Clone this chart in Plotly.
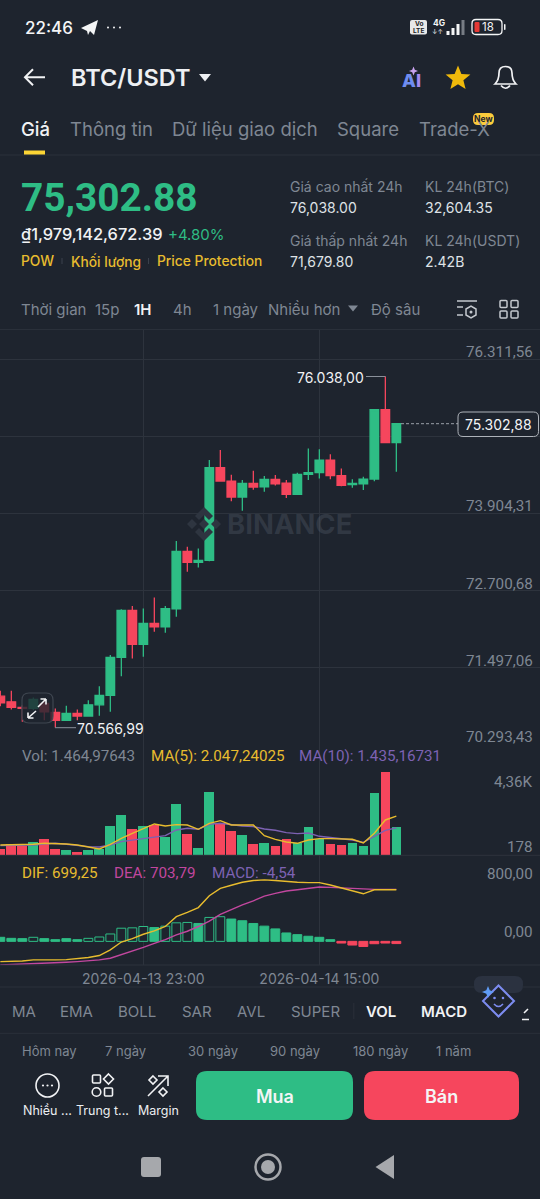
import math
import pandas as pd
import plotly.graph_objects as go

times = [str(t) for t in pd.date_range("2026-04-13 10:00", periods=37, freq="h")]
tick_times = ["2026-04-13 23:00", "2026-04-14 15:00"]

opens = [71055,70967,70879,70863,70941,70801,70676,70785,70744,70920,71066,71659,72392,71861,72189,72137,72418,73312,73140,73172,74617,74409,74159,74372,74320,74435,74378,74201,74513,74539,74736,74492,74352,74367,74440,75521,75007]
highs = [71139,71139,70915,71035,70993,70863,70905,70847,70993,71211,71695,72410,72459,72423,72594,72459,73473,73385,73359,74736,74892,74508,74424,74570,74487,74502,74424,74539,74918,74903,74825,74606,74435,74476,75530,76038.00,75310]
lows = [70899,70847,70655,70837,70681,70566.99,70676,70681,70733,70749,70811,71367,71643,71669,72059,72043,72293,72995,73062,73160,74398,74092,73946,74274,74242,74341,74144,74190,74424,74450,74435,74326,74305,74268,74404,75000,74554]
closes = [70951,70879,70863,71003,70811,70676,70785,70744,70920,71066,71659,72392,71861,72189,72137,72418,73312,73140,73172,74617,74409,74159,74372,74315,74435,74367,74201,74513,74539,74736,74492,74341,74372,74440,75521,75007,75302.88]

volume = [349,576,471,698,872,331,262,174,262,349,1552,2128,1360,1517,1587,977,2668,1099,401,3331,1674,1273,1064,593,663,488,837,663,1465,855,576,541,663,506,3261,4360,1464.98]
volume_up = [0,0,0,1,0,0,1,0,1,1,1,1,0,1,0,1,1,0,1,1,0,0,1,0,1,0,0,1,1,1,0,0,1,1,1,0,1]
ma5 = [541,541,541,576,628,628,593,541,453,331,576,889,1151,1413,1639,1535,1604,1587,1360,1674,1814,1587,1587,1587,1029,837,698,628,802,872,872,837,837,645,1151,1849,2047.24]
ma10 = [506,506,506,541,593,628,576,506,453,436,541,715,802,855,942,1029,1325,1413,1360,1622,1674,1587,1535,1500,1378,1308,1186,1134,1168,994,924,872,802,680,977,1308,1435.17]

macd_hist = [55,41,37,55,37,23,37,23,41,59,100,178,183,201,187,206,251,256,242,324,334,302,279,242,206,169,114,91,69,55,23,-23,-50,-69,-32,-23,-30]
macd_hollow = [0,0,0,1,0,0,0,0,1,1,1,1,1,1,0,1,1,1,0,1,1,0,0,0,0,0,0,0,0,0,0,0,0,0,0,0,0]
dif = [-274,-270,-265,-251,-256,-251,-247,-238,-219,-192,-114,-9,37,96,142,201,334,393,457,617,717,759,800,823,832,823,809,800,795,795,763,722,686,644,699,695,699.25]
dea = [-320,-315,-311,-302,-297,-292,-283,-274,-265,-251,-229,-183,-137,-82,-27,23,87,137,201,274,366,434,494,548,612,649,681,699,722,736,731,722,713,704,704,704,703.79]

price_ticks = [76311.56, 75107.93, 73904.31, 72700.68, 71497.06, 70293.43]

BG = "#1e242e"
GREEN = "#2ebd85"
RED = "#f6465d"
GRID = "#2d333d"
MUTED = "#7f8793"
WHITE = "#eaecef"
YELLOW = "#f0b90b"
GOLD = "#e8bc2e"
PURPLE = "#7d62b3"
MAGENTA = "#c2479f"
FONT = "Inter"
NUM = "Roboto"
NUM_SIZE = 15.2

W, H = 540, 1199
def dom(top, bottom):
    return [1 - bottom / H, 1 - top / H]

x_range = ["2026-04-13 09:58:12", "2026-04-15 11:03:36"]
BAR_MS = 3600000 * 0.88

fig = go.Figure()
fig.add_trace(go.Candlestick(
    x=times, open=opens, high=highs, low=lows, close=closes,
    xaxis="x", yaxis="y", whiskerwidth=0,
    increasing=dict(line=dict(color=GREEN, width=1.3), fillcolor=GREEN),
    decreasing=dict(line=dict(color=RED, width=1.3), fillcolor=RED),
    hoverinfo="skip", showlegend=False))
fig.add_trace(go.Bar(
    x=times, y=volume, width=BAR_MS, xaxis="x2", yaxis="y2",
    marker=dict(color=[GREEN if u else RED for u in volume_up], line_width=0),
    hoverinfo="skip", showlegend=False))
fig.add_trace(go.Scatter(x=times, y=ma10, mode="lines", xaxis="x2", yaxis="y2",
    line=dict(color=PURPLE, width=1.4), hoverinfo="skip", showlegend=False))
fig.add_trace(go.Scatter(x=times, y=ma5, mode="lines", xaxis="x2", yaxis="y2",
    line=dict(color=GOLD, width=1.4), hoverinfo="skip", showlegend=False))
fig.add_trace(go.Bar(
    x=times, y=macd_hist, width=BAR_MS * 0.92, xaxis="x3", yaxis="y3",
    marker=dict(
        color=[BG if h else (GREEN if v >= 0 else RED) for h, v in zip(macd_hollow, macd_hist)],
        line=dict(color=[GREEN if v >= 0 else RED for v in macd_hist], width=1)),
    hoverinfo="skip", showlegend=False))
fig.add_trace(go.Scatter(x=times, y=dea, mode="lines", xaxis="x3", yaxis="y3",
    line=dict(color=MAGENTA, width=1.4), hoverinfo="skip", showlegend=False))
fig.add_trace(go.Scatter(x=times, y=dif, mode="lines", xaxis="x3", yaxis="y3",
    line=dict(color=GOLD, width=1.4), hoverinfo="skip", showlegend=False))
# full-page axes, used only to place interface furniture in screen pixels
fig.add_trace(go.Scatter(x=[0], y=[0], mode="markers", xaxis="x4", yaxis="y4",
    marker=dict(opacity=0), hoverinfo="skip", showlegend=False))

shapes = []
ann = []

def text(x, y, s, size=14, color=WHITE, anchor="left", weight=None, font=FONT):
    f = dict(family=font, size=size, color=color)
    if weight:
        f["weight"] = weight
    ann.append(dict(x=x, y=y, xref="x4", yref="y4", text=s, showarrow=False,
                    xanchor=anchor, yanchor="middle", font=f, borderpad=0, borderwidth=0))

def path(d, fill=None, line=None, width=1.5, layer="above"):
    s = dict(type="path", path=d, xref="x4", yref="y4", layer=layer,
             line=dict(color=line or "rgba(0,0,0,0)", width=width if line else 0))
    if fill:
        s["fillcolor"] = fill
    shapes.append(s)

def rect(x0, y0, x1, y1, fill=None, line=None, width=1, r=0, layer="above"):
    if r:
        d = (f"M{x0+r},{y0} L{x1-r},{y0} Q{x1},{y0} {x1},{y0+r} L{x1},{y1-r} Q{x1},{y1} {x1-r},{y1} "
             f"L{x0+r},{y1} Q{x0},{y1} {x0},{y1-r} L{x0},{y0+r} Q{x0},{y0} {x0+r},{y0} Z")
    else:
        d = f"M{x0},{y0} L{x1},{y0} L{x1},{y1} L{x0},{y1} Z"
    path(d, fill, line, width, layer)

def circle(cx, cy, r, fill=None, line=None, width=1.5):
    s = dict(type="circle", x0=cx-r, x1=cx+r, y0=cy-r, y1=cy+r, xref="x4", yref="y4", layer="above",
             line=dict(color=line or "rgba(0,0,0,0)", width=width if line else 0))
    if fill:
        s["fillcolor"] = fill
    shapes.append(s)

def hline(x0, x1, y, color=GRID, width=1, dash=None):
    shapes.append(dict(type="line", x0=x0, x1=x1, y0=y, y1=y, xref="x4", yref="y4", layer="above",
                       line=dict(color=color, width=width, dash=dash or "solid")))

# status bar
text(25, 27.5, "22:46", 17, "#f4f5f6", weight=500)
path("M81,28 L98,20 L94,35 L90,31 L88,35 L87,31 Z", "#f4f5f6")
for cx in (108, 114, 120):
    circle(cx, 27.5, 1, "#f4f5f6")
rect(410, 20, 427, 34.5, "#e8e8e8", r=2)
text(418.5, 24, "Vo", 6.5, "#222", "center", 700)
text(418.5, 30.5, "LTE", 6.5, "#222", "center", 700)
text(439, 23, "4G", 8.5, "#f4f5f6", "center", 700)
text(437.5, 31.5, "↓↑", 6.5, "#f4f5f6", "center")
for bx, by, col in ((448, 31, "#f4f5f6"), (453, 28, "#f4f5f6"), (458, 24, "#f4f5f6"), (463, 20, "#777c84")):
    rect(bx-1.5, by, bx+1.5, 35, col)
rect(472, 19.5, 502, 34.5, None, "#f4f5f6", 1.3, r=4)
rect(474.5, 22, 479.5, 32, "#e53935", r=1)
text(488, 27, "18", 11.5, "#f4f5f6", "center")
rect(504, 24, 505.5, 30, "#f4f5f6", r=0.7)

# header
path("M45,77.3 L25,77.3 M33,69.3 L25,77.3 L33,85.3", None, "#f1f2f4", 2)
text(71, 77.5, "BTC/USDT", 23.5, "#eef0f3", weight=600)
path("M199,74 L211,74 L205,81.5 Z", "#eef0f3")
text(402, 80.5, "A", 18, "#6f8df0", weight=800)
text(415.5, 80.5, "I", 18, "#a58bf0", weight=800)
path("M413.5,66.5 L414.8,69.7 L418,71 L414.8,72.3 L413.5,75.5 L412.2,72.3 L409,71 L412.2,69.7 Z", "#c9a3ef")
star = []
for k in range(10):
    r = 13 if k % 2 == 0 else 5.7
    a = -math.pi / 2 + k * math.pi / 5
    star.append(f"{458 + r*math.cos(a):.1f},{78.5 + r*math.sin(a):.1f}")
path("M" + " L".join(star) + " Z", YELLOW)
path("M495,84 Q499,80 499,73 Q499,66.5 505.5,66.5 Q512,66.5 512,73 Q512,80 516,84 Z M501,85.5 Q505.5,91 510,85.5",
     None, "#f1f2f4", 1.7)

# tabs
text(21, 128.5, "Giá", 18.5, "#f1f2f4", weight=500)
text(70, 128.5, "Thông tin", 18.5, MUTED)
text(172, 128.5, "Dữ liệu giao dịch", 18.5, MUTED)
text(337, 128.5, "Square", 18.5, MUTED)
text(419, 128.5, "Trade-X", 18.5, MUTED)
rect(473, 113, 494, 125, "#fccc3c", r=5)
text(483.5, 119, "New", 8.5, "#1e242e", "center", 700)
rect(24, 150.5, 45, 155, "#fcd535")
hline(0, 540, 155, "#2a303a")

# price header
text(21, 197, "75,302.88", 38.8, GREEN, weight=700, font=NUM)
text(21, 234, "₫1,979,142,672.39", 16.4, "#f1f2f4", weight=500)
text(168, 234, "+4.80%", 15, GREEN)
text(21, 261, "POW", 13.8, GOLD, weight=500)
text(70.5, 261, "Khối lượng", 13.8, GOLD, weight=500)
text(157, 261, "Price Protection", 13.8, GOLD, weight=500)
rect(61.5, 258, 62.5, 264, "#3a414c")
rect(148, 258, 149, 264, "#3a414c")
for x_, y_, s_, c_ in ((290, 186, "Giá cao nhất 24h", MUTED), (290, 207.5, "76,038.00", "#dfe2e6"),
                       (290, 240, "Giá thấp nhất 24h", MUTED), (290, 261.5, "71,679.80", "#dfe2e6"),
                       (425, 186, "KL 24h(BTC)", MUTED), (425, 207.5, "32,604.35", "#dfe2e6"),
                       (425, 240, "KL 24h(USDT)", MUTED), (425, 261.5, "2.42B", "#dfe2e6")):
    text(x_, y_, s_, 14, c_)

# interval toolbar
for x_, s_ in ((21, "Thời gian"), (95, "15p"), (173, "4h"), (213, "1 ngày"), (268, "Nhiều hơn"), (371, "Độ sâu")):
    text(x_, 309.5, s_, 15, MUTED)
text(134, 309.5, "1H", 15, "#f1f2f4", weight=600)
path("M348,305.5 L358,305.5 L353,311.5 Z", MUTED)
path("M457,301 L477,301 M457,307 L463,307 M457,315 L463,315", None, "#c4c8ce", 1.5)
path("M466,309 L471,306 L476,309 L476,315 L471,318 L466,315 Z", None, "#c4c8ce", 1.5)
circle(471, 312, 1.5, "#c4c8ce")
for x_, y_ in ((500, 300.5), (511, 300.5), (500, 311), (511, 311)):
    rect(x_, y_, x_+7, y_+7, None, "#c4c8ce", 1.5, r=1)
hline(0, 540, 329.5, "#2a303a")

# pane rules
hline(0, 540, 855.3, GRID)
hline(0, 540, 965, GRID)
hline(0, 540, 987, "#2a303a")
hline(0, 540, 1033.3, "#2a303a")

# watermark
path("M204,507 L213,516 L209,520 L204,515 L199,520 L195,516 Z "
     "M187,524 L192,519 L197,524 L192,529 Z M204,519 L209,524 L204,529 L199,524 Z "
     "M216,519 L221,524 L216,529 L211,524 Z "
     "M195,532 L199,528 L204,533 L209,528 L213,532 L204,541 Z", "#2e3540", layer="below")
text(227, 523.5, "BINANCE", 27.5, "rgba(120,130,145,0.22)", weight=700)

# price labels
for v, y_ in ((76311.56, 352), (73904.31, 506), (72700.68, 584), (71497.06, 660.7), (70293.43, 736.7)):
    s_ = f"{v:,.2f}".replace(",", "#").replace(".", ",").replace("#", ".")
    text(533, y_, s_, NUM_SIZE, MUTED, "right", font=NUM)

# extremes
hline(366, 385.5, 376.5, "#8a909a", 1)
text(297, 377.5, "76.038,00", 14, "#f1f2f4")
hline(55, 76, 727.7, "#8a909a", 1)
text(77, 728.5, "70.566,99", 14, "#f1f2f4")

# last price
hline(401, 458, 423.7, "#9aa0a9", 1, "3px,2px")
rect(458, 412, 538.5, 436.5, BG, "#aeb3ba", 1, r=5)
text(498, 424.5, "75.302,88", 14, "#f4f5f6", "center")

# expand button
rect(22, 693, 53, 723, "rgba(30,36,46,0.8)", "#3f4650", 1.2, r=7)
path("M28,718 L36,711 M28,718 L28,712.5 M28,718 L33.5,718", None, "#f1f2f4", 1.6)
path("M46,699 L38,707 M46,699 L40.5,699 M46,699 L46,704.5", None, "#f1f2f4", 1.6)

# indicator legends
text(22, 755.5, "Vol: 1.464,97643", NUM_SIZE, MUTED, font=NUM)
text(151, 755.5, "MA(5): 2.047,24025", NUM_SIZE, GOLD, font=NUM)
text(299, 755.5, "MA(10): 1.435,16731", NUM_SIZE, PURPLE, font=NUM)
text(533, 782, "4,36K", NUM_SIZE, MUTED, "right", font=NUM)
text(533, 846.7, "178", NUM_SIZE, MUTED, "right", font=NUM)
text(22, 872.5, "DIF: 699,25", NUM_SIZE, GOLD, font=NUM)
text(114, 872.5, "DEA: 703,79", NUM_SIZE, MAGENTA, font=NUM)
text(212, 872.5, "MACD: -4,54", NUM_SIZE, PURPLE, font=NUM)
text(533, 874.3, "800,00", NUM_SIZE, MUTED, "right", font=NUM)
text(533, 932.3, "0,00", NUM_SIZE, MUTED, "right", font=NUM)

# indicator row
for x_, s_ in ((12, "MA"), (60, "EMA"), (118, "BOLL"), (182, "SAR"), (237, "AVL"), (291, "SUPER")):
    text(x_, 1011, s_, 15, MUTED)
text(366, 1011, "VOL", 15, "#f1f2f4", weight=600)
text(421, 1011, "MACD", 15, "#f1f2f4", weight=600)
rect(353.3, 1003, 354.3, 1019, "#2a303a")
rect(474, 976, 523, 993, "#2b3240", r=8)
path("M498.5,985.5 L514,1001 L498.5,1016.5 L483,1001 Z", BG, "#7d8cf0", 2)
path("M488,986 L489.7,990.3 L494,992 L489.7,993.7 L488,998 L486.3,993.7 L482,992 L486.3,990.3 Z", "#5f9cf5")
circle(494.5, 998, 1.3, "#7d8cf0")
circle(503, 998, 1.3, "#7d8cf0")
path("M494,1004 Q498.5,1009 503,1004", None, "#7d8cf0", 1.6)
path("M524,1013 L528,1009 M522,1019.5 L529,1019.5", None, "#f1f2f4", 1.6)

# range row
for x_, s_ in ((22, "Hôm nay"), (105, "7 ngày"), (187.5, "30 ngày"), (270, "90 ngày"), (353, "180 ngày"), (436, "1 năm")):
    text(x_, 1050.5, s_, 13, MUTED)

# bottom actions
circle(47.5, 1085.5, 11.5, None, "#f1f2f4", 1.6)
for cx in (43, 47.5, 52):
    circle(cx, 1085.5, 1.1, "#f1f2f4")
rect(92.5, 1075, 100.5, 1083, None, "#f1f2f4", 1.6, r=1)
path("M108.5,1074 L113.5,1079 L108.5,1084 L103.5,1079 Z", None, "#f1f2f4", 1.6)
circle(96.5, 1092, 4.3, None, "#f1f2f4", 1.6)
rect(104.5, 1088, 112.5, 1096, None, "#f1f2f4", 1.6, r=1)
path("M148,1096 L168,1076 M158,1076 L168,1076 L168,1086", None, "#f1f2f4", 1.6)
path("M153,1076 L157,1080 L153,1084 L149,1080 Z M163,1088 L167,1092 L163,1096 L159,1092 Z", None, "#f1f2f4", 1.6)
text(47, 1110, "Nhiều ...", 12.5, "#eceef1", "center")
text(102, 1110, "Trung t...", 12.5, "#eceef1", "center")
text(158, 1110, "Margin", 12.5, "#eceef1", "center")
rect(196, 1071, 353, 1120, GREEN, r=11)
rect(364, 1071, 519, 1120, RED, r=11)
text(274.5, 1096, "Mua", 18, "#f4f5f6", "center", 600)
text(441.5, 1096, "Bán", 18, "#f4f5f6", "center", 600)

# navigation bar
rect(141, 1157, 161, 1177, "#a6a8ac", r=3)
circle(268, 1167, 12.5, None, "#a6a8ac", 2.5)
circle(268, 1167, 7, "#a6a8ac")
path("M394,1155 L394,1179 L375.5,1167 Z", "#a6a8ac")

def x_axis(anchor, labels=False):
    return dict(domain=[0, 1], range=x_range, type="date", anchor=anchor, showline=False, zeroline=False,
                tickmode="array", tickvals=tick_times,
                ticktext=["2026-04-13 23:00", "2026-04-14 15:00"],
                showgrid=True, gridcolor=GRID, gridwidth=1, ticks="", showticklabels=labels,
                ticklabelstandoff=4 if labels else 0,
                tickfont=dict(family=FONT, size=14, color=MUTED),
                rangeslider=dict(visible=False))

fig.update_layout(
    width=W, height=H, margin=dict(l=0, r=0, t=0, b=0),
    paper_bgcolor=BG, plot_bgcolor="rgba(0,0,0,0)", showlegend=False, dragmode=False,
    bargap=0, barmode="overlay", boxgap=0.22, boxgroupgap=0,
    font=dict(family=FONT, color=MUTED),
    xaxis=x_axis("y"), xaxis2=x_axis("y2"), xaxis3=x_axis("y3", True),
    yaxis=dict(domain=dom(330, 745), range=[70293.43, 76764], anchor="x", side="right",
               tickmode="array", tickvals=price_ticks, showticklabels=False,
               showgrid=True, gridcolor=GRID, zeroline=False, ticks=""),
    yaxis2=dict(domain=dom(745, 855.3), range=[0, 5773], anchor="x2", side="right",
                showgrid=False, zeroline=False, showticklabels=False, ticks=""),
    yaxis3=dict(domain=dom(855.3, 965), range=[-320, 1165], anchor="x3", side="right",
                showgrid=False, zeroline=False, showticklabels=False, ticks=""),
    xaxis4=dict(domain=[0, 1], range=[0, W], anchor="y4", visible=False, fixedrange=True),
    yaxis4=dict(domain=[0, 1], range=[H, 0], anchor="x4", visible=False, fixedrange=True),
    shapes=shapes, annotations=ann,
)

fig.write_html("out.html", config={"displayModeBar": False, "staticPlot": True},
               post_script="document.body.style.margin='0';document.body.style.background='%s';" % BG)
